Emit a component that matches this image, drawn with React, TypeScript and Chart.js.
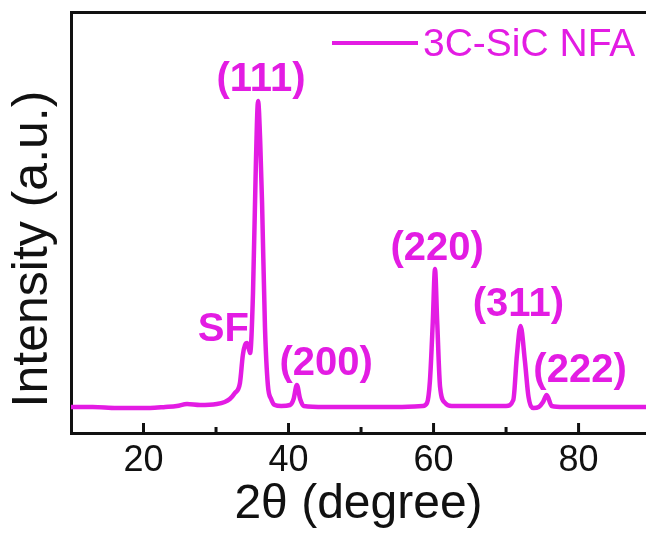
import React, { useEffect, useRef } from 'react';
import { Chart, registerables } from 'chart.js';

Chart.register(...registerables);

const twoTheta = [
  10.0, 13.0, 16.3, 20.9, 23.0, 24.6, 26.0, 27.8, 30.1, 31.2, 31.9, 32.6, 33.3, 33.7, 34.0, 34.3,
  34.7, 35.1, 35.5, 35.8, 36.1, 36.35, 36.75, 37.15, 37.6, 38.1, 39.0, 40.2, 40.7, 41.15, 41.6,
  42.1, 45.0, 50.0, 55.0, 58.5, 59.1, 59.5, 59.9, 60.2, 60.5, 60.9, 61.6, 62.5, 66.0, 70.0, 71.0,
  71.5, 72.0, 72.6, 73.1, 73.8, 74.5, 75.1, 75.6, 76.3, 78.0, 82.0, 86.0, 89.3,
];
const intensity = [
  26, 26, 25, 25, 26, 27, 29, 28, 29, 31, 34, 40, 50, 78, 88, 90,
  80, 140, 270, 332, 290, 230, 106, 48, 34, 28, 27, 28, 34, 48, 34,
  27, 26, 26, 26, 27, 30, 52, 112, 164, 112, 46, 30, 27, 27, 27, 33,
  78, 107, 72, 36, 25, 26, 31, 38, 27, 26, 26, 26, 26,
];

const seriesLabel = '3C-SiC NFA';
const xTitle = '2θ (degree)';
const yTitle = 'Intensity (a.u.)';

// peak annotations: text, 2θ anchor, intensity anchor
const peakNames = ['(111)', 'SF', '(200)', '(220)', '(311)', '(222)'];
const peakNameAt2Theta = [36.2, 31.0, 45.2, 60.5, 71.7, 80.2];
const peakNameAtIntensity = [353, 103, 69, 184, 128, 62];

const X_MIN = 10;
const X_MAX = 89.3;
const Y_MIN = 0;
const Y_MAX = 421;

const MAGENTA = '#e31ce3';
const INK = '#111111';
const FONT = '"Liberation Sans", Arial, Helvetica, sans-serif';

export default function App() {
  const ref = useRef<HTMLCanvasElement>(null);

  useEffect(() => {
    if (!ref.current) return;

    const overlay = {
      id: 'overlay',
      afterDatasetsDraw(chart: any) {
        const { ctx, chartArea } = chart;
        const x = chart.scales.x;
        const y = chart.scales.y;
        ctx.save();

        // inward tick marks
        ctx.strokeStyle = INK;
        ctx.lineWidth = 3;
        x.ticks.forEach((t: any) => {
          const v = t.value;
          if (v <= X_MIN || v % 10 !== 0) return;
          const px = x.getPixelForValue(v);
          const len = v % 20 === 0 ? 10 : 6;
          ctx.beginPath();
          ctx.moveTo(px, chartArea.bottom);
          ctx.lineTo(px, chartArea.bottom - len);
          ctx.stroke();
        });

        // peak labels
        ctx.fillStyle = MAGENTA;
        ctx.font = `bold 40px ${FONT}`;
        ctx.textAlign = 'center';
        ctx.textBaseline = 'middle';
        peakNames.forEach((n, i) => {
          ctx.fillText(n, x.getPixelForValue(peakNameAt2Theta[i]), y.getPixelForValue(peakNameAtIntensity[i]));
        });

        // legend
        const ds = chart.data.datasets[0];
        ctx.strokeStyle = ds.borderColor;
        ctx.lineWidth = 4;
        ctx.beginPath();
        ctx.moveTo(332, 43);
        ctx.lineTo(418, 43);
        ctx.stroke();
        ctx.fillStyle = ds.borderColor;
        ctx.font = `39px ${FONT}`;
        ctx.textAlign = 'left';
        ctx.textBaseline = 'middle';
        ctx.fillText(ds.label, 423, 45);

        // y title
        ctx.translate(33, 249);
        ctx.rotate(-Math.PI / 2);
        ctx.fillStyle = INK;
        ctx.font = `50px ${FONT}`;
        ctx.textAlign = 'center';
        ctx.textBaseline = 'middle';
        ctx.fillText(yTitle, 0, 0);

        ctx.restore();
      },
    };

    const chart = new Chart(ref.current, {
      type: 'line',
      data: {
        datasets: [
          {
            label: seriesLabel,
            data: twoTheta.map((t, i) => ({ x: t, y: intensity[i] })),
            borderColor: MAGENTA,
            borderWidth: 4.5,
            pointRadius: 0,
            cubicInterpolationMode: 'monotone',
            fill: false,
            borderJoinStyle: 'round',
            borderCapStyle: 'round',
          } as any,
        ],
      },
      options: {
        responsive: false,
        animation: false,
        layout: { padding: 0 },
        plugins: { legend: { display: false }, tooltip: { enabled: false } },
        scales: {
          x: {
            type: 'linear',
            position: 'bottom',
            min: X_MIN,
            max: X_MAX,
            afterFit: (s: any) => {
              s.height = 103;
            },
            grid: { display: false, drawTicks: false },
            border: { display: true, color: INK, width: 3 },
            ticks: {
              stepSize: 10,
              includeBounds: false,
              autoSkip: false,
              maxRotation: 0,
              padding: 6,
              color: INK,
              font: { family: FONT, size: 36 },
              callback: (v: any) => (Number(v) % 20 === 0 ? String(v) : ''),
            },
            title: {
              display: true,
              text: xTitle,
              color: INK,
              font: { family: FONT, size: 48 },
              padding: { top: 0, bottom: 2 },
            },
          },
          xTop: {
            type: 'linear',
            position: 'top',
            min: X_MIN,
            max: X_MAX,
            display: true,
            afterFit: (s: any) => {
              s.height = 12;
            },
            grid: { display: false, drawTicks: false },
            border: { display: true, color: INK, width: 3 },
            ticks: { display: false },
          },
          y: {
            type: 'linear',
            position: 'left',
            min: Y_MIN,
            max: Y_MAX,
            afterFit: (s: any) => {
              s.width = 71;
            },
            grid: { display: false, drawTicks: false },
            border: { display: true, color: INK, width: 3 },
            ticks: { display: false },
          },
        },
      } as any,
      plugins: [overlay],
    });

    return () => chart.destroy();
  }, []);

  return (
    <div style={{ position: 'fixed', left: 0, top: 0, width: 646, height: 536, background: '#fff' }}>
      <canvas ref={ref} width={646} height={536} style={{ display: 'block' }} />
    </div>
  );
}
